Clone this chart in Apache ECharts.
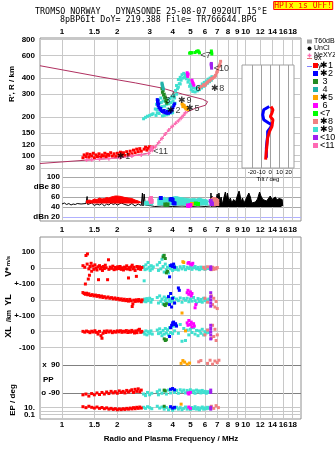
<!DOCTYPE html>
<html><head><meta charset="utf-8">
<script src="https://cdn.jsdelivr.net/npm/echarts@6/dist/echarts.min.js"></script>
<style>html,body{margin:0;padding:0;background:#fff}#c{width:335px;height:451px}</style>
</head><body><div id="c"></div>
<script>
// ---------------- tick labels ----------------
const FREQ_TICKS = [1,1.5,2,3,4,5,6,7,8,9,10,12,14,16,18];
const HEIGHT_TICKS = [80,90,100,120,150,200,300,400,600,800];
const DBE_TICKS = [20,40,60,80,100];
const DBE_LABELS = {100:'100',80:'dBe 80',60:'60',40:'40',20:'dBn 20'};
const V_TICKS = [100,0,-100];
const V_LABELS = {100:'100',0:'0','-100':'+-100'};
const YL_TICKS = [-100,0,100];
const YL_LABEL_VALUES = [0,-100];
const YL_LABELS = {0:'0','-100':'+-100'};
const XL_TICKS = [100,0,-100];
const XL_LABEL_VALUES = [0];
const XL_LOW_LABEL_VALUES = [-100];
const PP_TICKS = [90,-90];
const PP_LABELS = {90:'x  90','-90':'o -90'};
const EP_TICKS = [0.1,1,10];
const EP_LABEL_VALUES = [10];
const EP_LOW_LABEL_VALUES = [0.1];
const TILT_TICKS = [-20,-10,0,10,20];

// ---------------- echo names ----------------
const STAR = '\u2731';
const ECHO_NAMES = [STAR+'1',STAR+'2',' 3',' 4',STAR+'5',' 6','<7',STAR+'8',STAR+'9','<10','<11'];

// ---------------- profile curves (freq MHz, height km) ----------------
const MODEL_PROFILE = [[0.7587,499],[1.613,409],[2.506,367],[3.52,334],[4.53,300],[5.82,274],[6.20,262],[6.28,255],[6.045,246],[5.33,233],[4.70,215],[4.15,178],[3.81,158],[3.5,136],[3.22,117],[2.96,104],[2.075,96],[1.364,92],[0.7587,86.6]];
const NEXYZ_PROFILE = [[1.36,92],[1.45,92.5],[1.6,93.5],[1.8,94.5],[2.07,96],[2.4,99],[2.7,101],[2.96,103.7],[3.1,110],[3.22,116.7],[3.36,126],[3.5,135.8],[3.65,147],[3.81,157.6],[3.98,168],[4.15,177.8],[4.3,186],[4.45,195],[4.58,205],[4.7,215]];

// ---------------- echo 1 (red) ----------------
const E1_H = [[1.30,96],[1.32,101],[1.35,98],[1.37,103],[1.40,97],[1.42,102],[1.45,99],[1.48,104],[1.50,96],[1.53,101],[1.56,98],[1.59,103],[1.62,97],[1.65,101],[1.68,99],[1.71,104],[1.74,98],[1.77,102],[1.80,100],[1.84,105],[1.88,99],[1.92,103],[1.96,98],[2.00,104],[2.04,100],[2.08,106],[2.12,101],[2.16,105],[2.20,100],[2.25,107],[2.30,102],[2.35,108],[2.40,103],[2.45,110],[2.50,105],[2.55,112],[2.60,107],[2.65,113],[2.70,108],[2.80,112],[2.85,116],[2.90,110],[2.95,114],[3.00,117],[3.05,112],[3.10,116]];
const E1_DBE = [[1.35,52],[1.40,54],[1.45,53],[1.50,56],[1.55,55],[1.60,58],[1.65,56],[1.70,57],[1.75,59],[1.80,58],[1.85,60],[1.90,61],[1.95,62],[2.00,62],[2.05,60],[2.10,61],[2.15,58],[2.20,59],[2.25,57],[2.30,58],[2.35,55],[2.40,57],[2.45,56],[2.50,54],[2.55,55],[2.60,52],[2.65,53],[2.70,49]];
const E1_V = [[1.30,15],[1.33,5],[1.34,-100],[1.35,79],[1.375,89],[1.37,25],[1.39,-69],[1.40,-5],[1.41,-45],[1.42,10],[1.44,30],[1.45,-20],[1.47,12],[1.49,-8],[1.51,20],[1.53,0],[1.55,-12],[1.57,8],[1.58,-73],[1.60,15],[1.62,-5],[1.64,5],[1.66,-15],[1.68,10],[1.70,-3],[1.72,18],[1.74,2],[1.77,-73],[1.79,52],[1.80,-8],[1.83,6],[1.86,-2],[1.89,12],[1.92,-10],[1.95,4],[1.98,-6],[2.01,8],[2.04,-3],[2.07,10],[2.10,-8],[2.13,2],[2.16,-12],[2.19,6],[2.22,-4],[2.25,14],[2.28,-6],[2.30,-62],[2.32,3],[2.35,-10],[2.38,8],[2.41,18],[2.44,-5],[2.47,5],[2.50,-15],[2.54,-52],[2.56,10],[2.60,-4],[2.64,8],[2.68,-8],[2.72,4]];
const E1_YL = [[1.30,46],[1.32,40],[1.34,35],[1.36,42],[1.38,32],[1.40,38],[1.43,28],[1.46,33],[1.49,25],[1.52,30],[1.55,22],[1.58,27],[1.61,18],[1.64,24],[1.67,15],[1.70,20],[1.74,12],[1.78,18],[1.82,10],[1.86,14],[1.90,6],[1.94,12],[1.98,4],[2.02,9],[2.06,0],[2.10,6],[2.14,-3],[2.18,4],[2.22,-5],[2.26,2],[2.30,-8],[2.34,3],[2.38,-6],[2.41,-42],[2.43,-25],[2.46,-2],[2.50,-10],[2.54,0],[2.58,-8],[2.62,2],[2.66,-6],[2.70,-12],[2.73,0]];
const E1_XL = [[1.30,2],[1.33,-3],[1.36,4],[1.39,0],[1.42,-6],[1.45,3],[1.48,-2],[1.51,6],[1.54,-4],[1.57,-15],[1.60,2],[1.63,-25],[1.65,-41],[1.67,-10],[1.70,3],[1.73,-5],[1.76,5],[1.80,-2],[1.84,4],[1.88,-6],[1.92,2],[1.96,-3],[2.00,5],[2.04,-1],[2.08,6],[2.12,-4],[2.16,3],[2.20,-2],[2.24,7],[2.28,-5],[2.32,4],[2.36,-3],[2.40,8],[2.44,0],[2.48,-8],[2.52,5],[2.56,-6],[2.60,10],[2.64,15],[2.68,-4],[2.72,2]];
const E1_PP = [[1.30,-100],[1.35,-95],[1.40,-108],[1.45,-92],[1.50,-100],[1.55,-88],[1.60,-98],[1.65,-85],[1.70,-95],[1.75,-82],[1.80,-92],[1.85,-78],[1.90,-88],[1.95,-80],[2.00,-90],[2.05,-75],[2.10,-85],[2.15,-78],[2.20,-88],[2.25,-72],[2.30,-82],[2.35,-75],[2.40,-68],[2.45,-85],[2.50,-65],[2.55,-78],[2.60,-62],[2.65,-80],[2.70,-70]];
const E1_EP = [[1.30,15],[1.35,8],[1.40,20],[1.45,10],[1.50,6],[1.55,12],[1.60,5],[1.65,9],[1.70,4],[1.75,7],[1.80,3],[1.85,5],[1.90,2.5],[1.95,4],[2.00,2],[2.05,3.5],[2.10,2.2],[2.15,4],[2.20,2.5],[2.25,5],[2.30,3],[2.35,6],[2.40,3.5],[2.45,8],[2.50,4],[2.55,10],[2.60,5],[2.65,12],[2.70,6]];

// ---------------- echo 2 (blue) ----------------
const E2_H = [[3.30,272],[3.31,262],[3.32,252],[3.34,244],[3.37,236],[3.41,229],[3.46,224],[3.52,220],[3.58,217],[3.65,215],[3.72,213],[3.80,213],[3.87,216],[3.93,221],[3.98,228],[4.02,236],[4.06,245],[4.10,252],[3.33,266],[3.36,252],[3.45,232],[3.60,224],[3.75,220],[3.90,224]];
const E2_DBE = [[3.45,58],[3.90,55],[3.95,56],[4.00,54],[4.05,48],[4.10,47]];
const E2_V = [[3.85,-55],[3.90,15],[3.95,20],[4.00,10],[4.05,25],[4.10,5]];
const E2_YL = [[3.80,20],[3.85,-30],[3.90,40],[3.95,-45],[4.00,10],[4.10,-20],[4.30,75],[4.35,60]];
const E2_XL = [[3.85,-30],[3.90,25],[3.95,40],[4.00,55],[4.05,60],[4.10,45],[4.15,50],[4.20,35]];
const E2_PP = [[3.90,-65],[4.00,-60],[4.10,-68]];
const E2_EP = [[3.90,15],[4.00,6],[4.10,10]];

// ---------------- echo 3 (green) ----------------
const E3_H = [[3.50,330],[3.52,310],[3.55,320],[3.57,295],[3.60,300],[3.62,280],[3.65,285],[3.67,265],[3.70,270],[3.72,255]];
const E3_DBE = [[3.65,45],[3.70,44],[3.75,45]];
const E3_V = [[3.55,70],[3.60,80],[3.65,60],[3.70,-30],[3.75,-20]];
const E3_YL = [[3.60,-30],[3.65,-36],[3.70,-25]];
const E3_XL = [[3.60,-45],[3.65,-55],[3.70,-50]];
const E3_PP = [[3.60,-70],[3.65,-75]];
const E3_EP = [[3.60,20]];

// ---------------- echo 4 (teal) ----------------
const E4_H = [[3.50,365],[3.51,355],[3.52,350],[3.54,340],[3.56,330]];

// ---------------- echo 5 (orange) ----------------
const E5_H = [[4.50,252],[4.55,248],[4.58,241],[4.62,245],[4.66,238],[4.70,234],[4.74,230],[4.78,236],[4.82,228],[4.55,240]];
const E5_DBE = [[5.10,46]];
const E5_V = [[4.55,40],[4.60,35]];
const E5_YL = [[4.50,-83]];
const E5_XL = [[4.70,5]];
const E5_PP = [[4.45,100],[4.55,118],[4.65,108],[4.80,95],[4.95,102]];
const E5_EP = [[4.45,80]];

// ---------------- echo 6 (magenta) ----------------
const E6_H = [[4.80,440],[4.82,425],[4.84,412],[4.86,430],[5.10,385],[5.14,372],[5.18,362],[5.22,352]];
const E6_DBE = [[4.85,43],[4.90,42],[5.00,44]];
const E6_V = [[4.85,30],[4.90,35],[5.00,25],[5.10,20],[5.15,30]];
const E6_YL = [[4.80,45],[4.85,60],[4.90,35],[5.00,50],[5.05,25],[5.10,40],[5.30,-50],[5.35,-30]];
const E6_XL = [[4.80,55],[4.85,40],[4.90,70],[5.00,45],[5.05,60],[5.10,30],[5.20,50],[5.25,35]];
const E6_PP = [[4.85,-88],[4.90,-95],[5.00,-85]];
const E6_EP = [[4.90,12],[5.00,5]];

// ---------------- echo 7 (lime) ----------------
const E7_H = [[4.95,625],[5.00,630],[5.05,628],[5.10,630],[5.30,632],[5.40,645],[5.50,652],[5.55,640],[5.60,628],[6.50,650],[6.52,632],[6.54,615]];
const E7_DBE = [[5.35,47],[5.50,46]];

// ---------------- echo 8 (salmon) ----------------
const E8_H = [[5.60,335],[5.75,345],[5.90,355],[6.10,365],[6.30,380],[6.50,395],[6.70,405],[6.85,420],[6.95,440],[7.05,465],[7.15,490],[7.25,515],[7.30,540],[6.00,350],[6.20,372],[6.40,385],[6.60,398],[6.80,412],[7.00,450],[7.20,500]];
const E8_DBE = [[6.60,54],[6.60,48],[6.70,56],[6.70,50],[6.70,45],[6.80,55],[6.80,49],[6.90,54],[6.90,47],[7.00,52],[7.00,46]];
const E8_V = [[5.90,5],[6.00,-5],[6.20,8],[6.50,-10],[6.60,5],[6.70,-8],[6.80,0],[6.90,-5],[7.00,3]];
const E8_YL = [[6.00,10],[6.20,-15],[6.50,25],[6.60,-30],[6.70,10],[6.80,-45],[6.90,-10],[7.00,-55]];
const E8_XL = [[6.00,-20],[6.20,10],[6.50,-40],[6.60,40],[6.70,-30],[6.80,15],[6.90,-55],[7.00,-20]];
const E8_PP = [[5.55,110],[5.70,118],[6.20,100],[6.40,120],[6.60,95],[6.80,115],[7.00,105],[7.15,120]];
const E8_EP = [[6.50,20],[6.70,5],[6.90,30],[7.10,8]];

// ---------------- echo 9 (turquoise) ----------------
const E9_H = [[2.78,193],[2.85,198],[2.92,202],[3.00,205],[3.08,208],[3.13,211],[3.25,205],[3.28,228],[3.32,248],[3.38,212],[3.42,234],[3.47,258],[3.52,203],[3.57,222],[3.62,242],[3.67,264],[3.72,207],[3.77,230],[3.82,252],[3.87,276],[3.92,214],[3.97,240],[4.02,265],[4.07,292],[4.12,255],[4.15,320],[4.20,350],[4.30,390],[4.40,405],[4.50,425],[4.60,435],[4.70,425],[4.80,410],[4.90,385],[5.00,360],[5.10,345],[5.20,335],[5.35,333],[5.50,338],[5.65,345],[5.80,360],[5.95,370],[6.10,380],[6.25,392],[6.40,400],[6.55,410],[4.25,330],[4.35,362],[4.45,385],[4.55,400],[4.65,405],[4.75,395],[4.85,372],[4.95,345],[5.05,325],[5.15,315],[5.30,312],[5.45,318],[5.60,325],[5.75,335],[5.90,345],[6.05,355],[6.20,365],[6.35,375],[6.50,385],[3.22,230],[3.27,250],[3.35,270],[3.45,280],[3.55,265],[3.60,205],[3.70,250],[3.80,210],[3.90,258],[4.00,215],[4.05,250],[4.10,280],[3.30,215],[3.50,240],[3.75,270],[3.95,285],[4.20,300],[4.30,340],[4.40,360]];
const E9_DBE = [[2.80,50],[2.90,52],[3.00,51],[3.10,49],[3.15,46],[3.20,null],[3.30,56],[3.40,58],[3.50,55],[3.60,60],[3.70,57],[3.80,59],[3.90,56],[4.00,60],[4.10,58],[4.20,61],[4.30,57],[4.40,59],[4.50,56],[4.60,58],[4.70,55],[4.80,57],[4.90,54],[5.00,56],[5.10,55],[5.20,57],[5.30,54],[5.40,56],[5.50,55],[5.60,58],[5.70,54],[5.80,56],[5.90,52],[6.00,55],[6.10,53],[6.20,54],[6.30,50]];
const E9_V = [[2.78,10],[2.80,-80],[2.83,-10],[2.86,20],[2.90,-5],[2.94,35],[2.98,5],[3.02,-15],[3.06,15],[3.10,-5],[3.14,8],[3.30,20],[3.35,-15],[3.40,35],[3.45,-5],[3.50,55],[3.55,10],[3.56,79],[3.60,-25],[3.65,25],[3.70,-10],[3.75,5],[3.80,-30],[3.85,15],[3.90,-5],[3.95,10],[4.00,-15],[4.05,5],[4.10,12],[4.15,-8],[4.20,3],[4.30,-12],[4.40,8],[4.50,-5],[4.60,10],[4.70,-10],[4.80,5],[4.90,-3],[5.00,8],[5.10,-8],[5.20,2],[5.30,10],[5.40,-5],[5.50,4],[5.60,-10],[5.70,6],[5.80,-4],[5.90,2],[6.00,-8],[6.10,5],[6.20,-3],[6.30,0]];
const E9_YL = [[2.78,-8],[2.82,5],[2.86,-12],[2.90,8],[2.95,-5],[3.00,10],[3.05,-15],[3.10,2],[3.30,15],[3.35,-20],[3.40,25],[3.45,-10],[3.50,5],[3.55,-25],[3.60,18],[3.65,-5],[3.70,10],[3.75,-18],[3.80,22],[3.85,0],[3.90,-12],[3.95,8],[4.00,-8],[4.05,15],[4.10,-20],[4.20,5],[4.30,-5],[4.40,12],[4.50,-15],[4.60,8],[4.70,-3],[4.80,10],[4.90,-12],[5.00,5],[5.10,-8],[5.20,15],[5.30,-5],[5.40,-20],[5.50,8],[5.60,-10],[5.70,3],[5.80,-15],[5.90,10],[6.00,-5],[6.10,0],[6.20,-10],[6.30,5]];
const E9_XL = [[2.78,-5],[2.82,-15],[2.86,5],[2.90,-20],[2.95,0],[3.00,-10],[3.05,5],[3.10,-15],[3.30,10],[3.35,-12],[3.40,18],[3.45,-5],[3.50,-25],[3.55,8],[3.60,-15],[3.65,20],[3.70,-8],[3.75,12],[3.80,-20],[3.85,25],[3.90,-5],[3.95,30],[4.00,-12],[4.05,35],[4.10,5],[4.20,40],[4.30,-10],[4.40,45],[4.50,-60],[4.60,20],[4.70,-55],[4.80,10],[4.90,-20],[5.00,15],[5.10,-5],[5.20,25],[5.30,-15],[5.40,8],[5.50,-25],[5.60,5],[5.70,-10],[5.80,15],[5.90,-20],[6.00,0],[6.10,-8],[6.20,10],[6.30,-5]];
const E9_PP = [[2.78,-95],[2.85,-105],[2.92,-85],[3.00,-100],[3.08,-90],[3.30,-80],[3.35,-100],[3.40,-70],[3.50,-90],[3.60,-75],[3.70,-95],[3.80,-70],[3.90,-88],[4.00,-65],[4.10,-85],[4.20,-72],[4.30,-90],[4.40,-68],[4.50,-80],[4.60,-70],[4.70,-88],[4.80,-72],[4.90,-82],[5.00,-68],[5.10,-85],[5.20,-75],[5.30,-90],[5.40,-70],[5.50,-82],[5.60,-75],[5.70,-88],[5.80,-72],[5.90,-85],[6.00,-78],[6.10,-90],[6.20,-80],[6.30,-85]];
const E9_EP = [[2.78,10],[2.85,5],[2.92,15],[3.00,8],[3.08,4],[3.30,20],[3.40,6],[3.50,12],[3.60,3],[3.70,9],[3.80,2],[3.90,6],[4.00,1.5],[4.10,4],[4.20,10],[4.30,3],[4.40,8],[4.50,2],[4.60,5],[4.70,12],[4.80,3],[4.90,7],[5.00,2.5],[5.10,9],[5.20,4],[5.30,15],[5.40,3],[5.50,8],[5.60,2],[5.70,6],[5.80,12],[5.90,3],[6.00,7],[6.10,4],[6.20,10],[6.30,5]];

// ---------------- echo 10 (purple) ----------------
const E10_H = [[6.50,520],[6.50,505],[6.51,490],[6.52,478],[6.49,512],[6.51,497]];
const E10_DBE = [[6.45,52],[6.50,48],[6.55,46]];
const E10_V = [[6.45,-8],[6.45,0],[6.45,8]];
const E10_YL = [[6.45,-40],[6.45,-20],[6.45,0],[6.45,20],[6.45,45]];
const E10_XL = [[6.45,-45],[6.45,-20],[6.45,0],[6.45,20],[6.45,40]];
const E10_PP = [[6.45,-70],[6.45,-85]];
const E10_EP = [[6.45,10],[6.45,3]];

// ---------------- echo 11 (pink) ----------------
const E11_H = [[3.05,112],[3.08,116]];
const E11_DBE = [[3.02,55],[3.05,58],[3.08,52],[3.05,50]];

// ---------------- unclassified amplitude (black) ----------------
const UNCL_LOW = [[1.00,46],[1.03,48],[1.06,45],[1.09,47],[1.12,44],[1.15,46],[1.18,45],[1.21,47],[1.24,44],[1.27,46],[1.30,45],[1.35,47],[1.37,61],[1.38,45],[1.40,44],[1.45,48],[1.50,43],[1.55,46],[1.60,44],[1.65,47],[1.70,42],[1.75,46],[1.80,44],[1.85,48],[1.90,45],[1.95,47],[2.00,44],[2.10,48],[2.20,45],[2.30,43],[2.40,47],[2.50,42],[2.60,46],[2.70,43],[2.74,68],[2.76,42],[2.80,66],[2.84,44],[2.90,42],[3.00,43],[3.20,41],[3.50,42],[4.00,41],[4.50,42],[5.00,41],[5.50,42],[6.00,41],[6.45,42]];
const UNCL_HIGH = [[6.45,42],[6.47,68],[6.50,45],[6.55,62],[6.60,50],[6.70,58],[6.80,48],[6.90,55],[7.00,66],[7.05,50],[7.15,68],[7.25,52],[7.35,60],[7.45,45],[7.60,58],[7.75,70],[7.85,56],[7.95,68],[8.10,52],[8.25,58],[8.40,48],[8.60,55],[8.80,50],[9.00,62],[9.20,72],[9.30,65],[9.45,50],[9.60,58],[9.80,48],[10.0,55],[10.2,52],[10.4,68],[10.6,60],[10.8,48],[11.0,52],[11.3,50],[11.6,56],[11.9,70],[12.1,62],[12.4,55],[12.7,58],[13.0,52],[13.3,56],[13.6,62],[13.9,55],[14.2,58],[14.5,60],[14.8,54],[15.2,57],[15.5,58],[15.8,55],[15.9,42]];

// ---------------- tilt inset (deg, km) ----------------
const THETA_X = [[0.8,240],[2.9,226],[1.8,213],[0,200],[2.9,189],[1.8,167],[-0.8,153],[-2.9,136],[-3.6,120],[-4.3,107],[-5.1,92]];
const THETA_Y = [[-1.1,240],[-7.2,226],[-8.3,206],[-7.2,189],[-1.8,178],[1.8,172],[0,163],[-2.9,153],[-2.9,140],[-3.6,128],[-4.3,113],[-4.3,95]];

// ---------------- trace annotations ----------------
const ANNOT_TEXT = [STAR+'1','<11',STAR+'2','3','4',STAR+'9',STAR+'5','6',STAR+'8','<10','<7'];
const ANNOT_F = [2.0,3.14,3.75,3.65,3.89,4.30,4.76,5.33,6.5,6.7,5.68];
const ANNOT_H = [99,108,225,269,295,269,233,333,333,478,594];

// =====================================================================
const COLORS = ['#ff0000','#0000ff','#228b22','#20b2aa','#ffa500','#ff00ff','#00ff00','#f08080','#40e0d0','#a020f0','#ff69b4'];
const ECHOES = [
  {h:E1_H, dbe:E1_DBE, v:E1_V, yl:E1_YL, xl:E1_XL, pp:E1_PP, ep:E1_EP},
  {h:E2_H, dbe:E2_DBE, v:E2_V, yl:E2_YL, xl:E2_XL, pp:E2_PP, ep:E2_EP},
  {h:E3_H, dbe:E3_DBE, v:E3_V, yl:E3_YL, xl:E3_XL, pp:E3_PP, ep:E3_EP},
  {h:E4_H},
  {h:E5_H, dbe:E5_DBE, v:E5_V, yl:E5_YL, xl:E5_XL, pp:E5_PP, ep:E5_EP},
  {h:E6_H, dbe:E6_DBE, v:E6_V, yl:E6_YL, xl:E6_XL, pp:E6_PP, ep:E6_EP},
  {h:E7_H, dbe:E7_DBE},
  {h:E8_H, dbe:E8_DBE, v:E8_V, yl:E8_YL, xl:E8_XL, pp:E8_PP, ep:E8_EP},
  {h:E9_H, dbe:E9_DBE, v:E9_V, yl:E9_YL, xl:E9_XL, pp:E9_PP, ep:E9_EP},
  {h:E10_H, dbe:E10_DBE, v:E10_V, yl:E10_YL, xl:E10_XL, pp:E10_PP, ep:E10_EP},
  {h:E11_H, dbe:E11_DBE}
];
const DBE_AREA_ORIGIN = {0:47, 8:43};
const DRAW_ORDER = [8,0,1,2,3,4,5,6,7,9,10];

const FONT = 'Liberation Sans, Arial, sans-serif';
const LBL = {fontSize:8, color:'#000', fontFamily:FONT, fontWeight:'bold', hideOverlap:false, showMinLabel:true, showMaxLabel:true};
const GRIDLINE = '#c8c8c8';
const XMIN_WIDE = 0.7587;

// grids: 0 frameTop,1 height,2 dBe,3 frameLow,4 V*,5 YL,6 XL,7 PP,8 EP,9 inset
const G = [
  {left:40, top:38, width:261, height:183, show:true, borderColor:'#909090', borderWidth:1},
  {left:40, top:38, width:261, height:139},
  {left:62, top:177, width:239, height:44},
  {left:40, top:237, width:261, height:182, show:true, borderColor:'#909090', borderWidth:1},
  {left:40, top:237, width:261, height:47},
  {left:40, top:284, width:261, height:31.7},
  {left:40, top:315.7, width:261, height:40.3},
  {left:62, top:356, width:239, height:44},
  {left:40, top:400, width:261, height:19},
  {left:242, top:65, width:52, height:103, show:true, backgroundColor:'#ffffff', borderColor:'#a0a0a0', borderWidth:1, z:3}
].map(g => Object.assign({containLabel:false, outerBoundsMode:'none'}, g));

function hidden(gi){ return {type:'value', gridIndex:gi, show:false, min:0, max:1}; }
function freqAxis(gi, min, pos, margin){
  return {type:'log', logBase:10, gridIndex:gi, min:min, max:20, position:pos||'bottom',
    axisLine:{show:false}, axisTick:{show:false, customValues:FREQ_TICKS},
    axisLabel:Object.assign({show:!!pos, customValues:FREQ_TICKS, margin:margin||2,
      formatter:v=>String(Math.round(v*10)/10)}, LBL),
    splitLine:{show:true, lineStyle:{color:GRIDLINE, width:1}},
    minorTick:{show:false}, minorSplitLine:{show:false}};
}
function valAxis(gi, type, min, max, ticks, labelVals, fmt, lineColor, margin){
  return {type:type, gridIndex:gi, position:'left', offset:0, min:min, max:max, logBase:10,
    axisLine:{show:false}, axisTick:{show:false, customValues:ticks},
    axisLabel:Object.assign({show:true, customValues:labelVals, margin:margin, formatter:fmt}, LBL),
    splitLine:{show:!!lineColor, lineStyle:{color:lineColor||'#ccc', width:1}},
    minorTick:{show:false}, minorSplitLine:{show:false}};
}

const X = [
  hidden(0),
  freqAxis(1, XMIN_WIDE, 'top', 2),
  freqAxis(2, 1, 'bottom', 5),
  hidden(3),
  freqAxis(4, XMIN_WIDE),
  freqAxis(5, XMIN_WIDE),
  freqAxis(6, XMIN_WIDE),
  freqAxis(7, 1),
  freqAxis(8, XMIN_WIDE, 'bottom', 2),
  {type:'value', gridIndex:9, min:-31, max:26, z:3,
    axisLine:{show:false}, axisTick:{show:false, customValues:TILT_TICKS},
    axisLabel:{show:true, customValues:TILT_TICKS, margin:1, fontSize:6, color:'#000', fontFamily:FONT, hideOverlap:false, showMinLabel:true, showMaxLabel:true},
    splitLine:{show:true, lineStyle:{color:'#a0a0a0', width:1}},
    name:'Tilt / deg', nameLocation:'middle', nameGap:7, nameTextStyle:{fontSize:6, color:'#000', fontFamily:FONT}}
];
const Y = [
  hidden(0),
  valAxis(1,'log',68,820,HEIGHT_TICKS,HEIGHT_TICKS,v=>String(Math.round(v)),GRIDLINE,5),
  valAxis(2,'value',12,100,DBE_TICKS,DBE_TICKS,v=>DBE_LABELS[Math.round(v)]||'',GRIDLINE,2),
  hidden(3),
  valAxis(4,'value',-100,195,V_TICKS,V_TICKS,v=>V_LABELS[Math.round(v)]||'',GRIDLINE,5),
  valAxis(5,'value',-100,100,YL_TICKS,YL_LABEL_VALUES,v=>YL_LABELS[Math.round(v)]||'',GRIDLINE,5),
  valAxis(6,'value',-152,100,XL_TICKS,XL_LABEL_VALUES,v=>String(Math.round(v)),GRIDLINE,5),
  valAxis(7,'value',-133,147,PP_TICKS,PP_TICKS,v=>PP_LABELS[Math.round(v)]||'','#808080',2),
  valAxis(8,'log',0.0046,1220,EP_TICKS,EP_LABEL_VALUES,v=>'10.',GRIDLINE,5),
  {type:'log', logBase:10, gridIndex:9, min:79, max:507, show:false, splitLine:{show:false}},
  // second label axes sharing the XL and EP panels
  valAxis(6,'value',-152,100,XL_LOW_LABEL_VALUES,XL_LOW_LABEL_VALUES,v=>String(Math.round(v)),null,5),
  valAxis(8,'log',0.0046,1220,EP_LOW_LABEL_VALUES,EP_LOW_LABEL_VALUES,v=>'0.1',null,5)
];
Y[8].axisLabel.lineHeight = 7;
Y[11].axisLabel.lineHeight = 7;
// dBn 20 line in lavender
Y[2].splitLine.lineStyle.color = ['#b0b0ff','#a8a8a8','#a8a8a8','#c8c8c8','#a8a8a8'];

const S = [];
function sc(name, data, gi, color, size, z){
  S.push({type:'scatter', name:name, data:data, xAxisIndex:gi, yAxisIndex:gi, symbol:'rect',
    symbolSize:size||3, itemStyle:{color:color, opacity:1}, z:z||2, silent:true});
}
function area(name, data, gi, color, origin, z){
  S.push({type:'line', name:name, data:data, xAxisIndex:gi, yAxisIndex:gi, symbol:'none', showSymbol:false,
    lineStyle:{color:color, width:1}, itemStyle:{color:color},
    areaStyle:{color:color, opacity:1, origin:origin}, connectNulls:false, silent:true, z:z||2});
}

// top panel: model profile & measured profile
S.push({type:'line', name:'model', data:MODEL_PROFILE, xAxisIndex:1, yAxisIndex:1, symbol:'none',
  lineStyle:{color:'#b03060', width:1}, silent:true, z:1});
S.push({type:'line', name:'NeXYZ', data:NEXYZ_PROFILE, xAxisIndex:1, yAxisIndex:1,
  symbol:'path://M1,0H2V1H3V2H2V3H1V2H0V1H1Z', symbolSize:4, showSymbol:true,
  lineStyle:{color:'#ff6eb4', width:1}, itemStyle:{color:'#ff6eb4'}, silent:true, z:3});

// dBe black trace
S.push({type:'line', name:'UnCl', data:UNCL_LOW, xAxisIndex:2, yAxisIndex:2, symbol:'none',
  lineStyle:{color:'#000', width:1}, itemStyle:{color:'#000'}, silent:true, z:1});
area('UnCl', UNCL_HIGH, 2, '#000', 40, 1);
S.push({type:'line', name:'T60dB', data:[], xAxisIndex:2, yAxisIndex:2, symbol:'none',
  lineStyle:{color:'#a0a0a0'}, itemStyle:{color:'#a0a0a0'}});

DRAW_ORDER.forEach(i => {
  const e = ECHOES[i], n = ECHO_NAMES[i], c = COLORS[i];
  sc(n, e.h, 1, c, 3);
  if (e.dbe) {
    if (DBE_AREA_ORIGIN[i] !== undefined) area(n, e.dbe, 2, c, DBE_AREA_ORIGIN[i]);
    else sc(n, e.dbe, 2, c, 4);
  }
  if (e.v) sc(n, e.v, 4, c, 3);
  if (e.yl) sc(n, e.yl, 5, c, 3);
  if (e.xl) sc(n, e.xl, 6, c, 3);
  if (e.pp) sc(n, e.pp, 7, c, 3);
  if (e.ep) sc(n, e.ep, 8, c, 3);
});

// annotations
S.push({type:'scatter', name:'annot', xAxisIndex:1, yAxisIndex:1, symbolSize:0, silent:true, z:6,
  data:ANNOT_TEXT.map((t,k)=>({name:t, value:[ANNOT_F[k], ANNOT_H[k]]})),
  label:{show:true, position:'right', distance:0, formatter:'{b}', fontSize:9, color:'#000', fontFamily:FONT}});

// inset tilts
S.push({type:'line', name:'\u03b8y', data:THETA_Y, xAxisIndex:9, yAxisIndex:9, symbol:'none',
  lineStyle:{color:'#0000ff', width:3}, itemStyle:{color:'#8080ff'}, silent:true, z:5});
S.push({type:'line', name:'\u03b8x', data:THETA_X, xAxisIndex:9, yAxisIndex:9, symbol:'none',
  lineStyle:{color:'#ff0000', width:3}, itemStyle:{color:'#e07070'}, silent:true, z:6});

const MONO = 'DejaVu Sans Mono, monospace';
const option = {
  animation:false,
  backgroundColor:'#ffffff',
  title:[
    {text:'TROMSO NORWAY   DYNASONDE 25-08-07 0920UT 15\u00b0E', left:35, top:8, padding:0,
      textStyle:{fontFamily:MONO, fontSize:8.4, fontWeight:'normal', color:'#000'}},
    {text:'8pBP6It DoY= 219.388 File= TR766644.BPG', left:60, top:16, padding:0,
      textStyle:{fontFamily:MONO, fontSize:8.4, fontWeight:'normal', color:'#000'}},
    {text:'HPTx is OFF!', right:2, top:1, padding:[1,1,0,1], backgroundColor:'#ffff00', borderColor:'#ff0000', borderWidth:1,
      textStyle:{fontFamily:MONO, fontSize:8, fontWeight:'normal', color:'#ff0000'}}
  ],
  legend:[
    {orient:'vertical', left:302, top:33, itemWidth:5, itemHeight:4, itemGap:0, selectedMode:false,
      textStyle:{fontSize:7, lineHeight:5, color:'#000', fontFamily:FONT, padding:[0,0,0,-3]},
      data:[{name:'T60dB', icon:'rect'},{name:'UnCl', icon:'circle'},
            {name:'NeXYZ', icon:'path://M1,0H2V1H3V2H2V3H1V2H0V1H1Z'}]},
    {orient:'horizontal', left:302, top:50, itemWidth:5, itemHeight:1, itemGap:1, selectedMode:false,
      textStyle:{fontSize:7, lineHeight:5, color:'#000', fontFamily:FONT, padding:[0,0,0,-3]},
      data:[{name:'\u03b8x', icon:'rect'},{name:'\u03b8y', icon:'rect'}]},
    {orient:'vertical', left:308, top:56, itemWidth:5, itemHeight:5, itemGap:-1, selectedMode:false, icon:'rect',
      textStyle:{fontSize:9, lineHeight:5, color:'#000', fontFamily:FONT, padding:[0,0,0,-3]},
      data:ECHO_NAMES}
  ],
  graphic:[
    {type:'text', x:12, y:84, rotation:Math.PI/2, style:{text:"R', R / km", font:'bold 8px '+FONT, fill:'#000', align:'center', verticalAlign:'middle'}},
    {type:'text', x:9, y:272, rotation:Math.PI/2, style:{text:'V*', font:'bold 9px '+FONT, fill:'#000', align:'center', verticalAlign:'middle'}},
    {type:'text', x:8, y:261, rotation:Math.PI/2, style:{text:'m/s', font:'bold 6px '+FONT, fill:'#000', align:'center', verticalAlign:'middle'}},
    {type:'text', x:9, y:300, rotation:Math.PI/2, style:{text:'YL', font:'bold 9px '+FONT, fill:'#000', align:'center', verticalAlign:'middle'}},
    {type:'text', x:9, y:316, rotation:Math.PI/2, style:{text:'/km', font:'bold 7px '+FONT, fill:'#000', align:'center', verticalAlign:'middle'}},
    {type:'text', x:9, y:332, rotation:Math.PI/2, style:{text:'XL', font:'bold 9px '+FONT, fill:'#000', align:'center', verticalAlign:'middle'}},
    {type:'text', x:43, y:380, style:{text:'PP', font:'bold 8px '+FONT, fill:'#000', align:'left', verticalAlign:'middle'}},
    {type:'text', x:13, y:400, rotation:Math.PI/2, style:{text:'EP / deg', font:'bold 8px '+FONT, fill:'#000', align:'center', verticalAlign:'middle'}},
    {type:'text', x:171, y:439, style:{text:'Radio and Plasma Frequency / MHz', font:'bold 8px '+FONT, fill:'#000', align:'center', verticalAlign:'middle'}}
  ],
  grid:G, xAxis:X, yAxis:Y, series:S
};
const chart = echarts.init(document.getElementById('c'));
chart.setOption(option);
</script></body></html>
